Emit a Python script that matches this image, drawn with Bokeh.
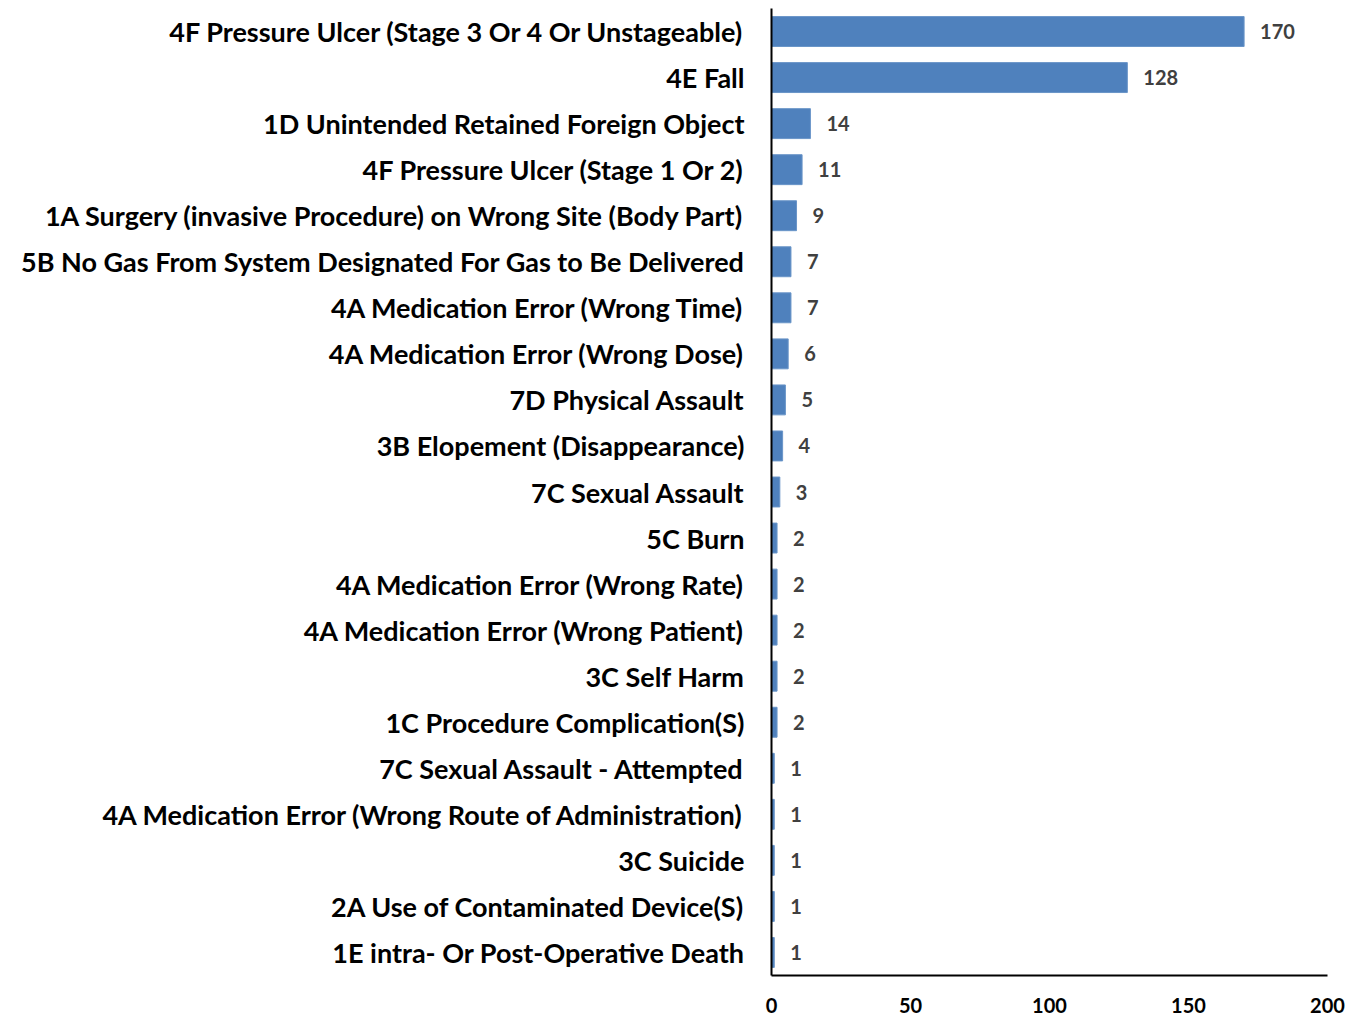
from bokeh.plotting import figure
from bokeh.models import ColumnDataSource, FactorRange, Range1d, FixedTicker, LabelSet
from bokeh.core.properties import value
from bokeh.embed import file_html
from bokeh.resources import INLINE

categories = [
    "4F Pressure Ulcer (Stage 3 Or 4 Or Unstageable)",
    "4E Fall",
    "1D Unintended Retained Foreign Object",
    "4F Pressure Ulcer (Stage 1 Or 2)",
    "1A Surgery (invasive Procedure) on Wrong Site (Body Part)",
    "5B No Gas From System Designated For Gas to Be Delivered",
    "4A Medication Error (Wrong Time)",
    "4A Medication Error (Wrong Dose)",
    "7D Physical Assault",
    "3B Elopement (Disappearance)",
    "7C Sexual Assault",
    "5C Burn",
    "4A Medication Error (Wrong Rate)",
    "4A Medication Error (Wrong Patient)",
    "3C Self Harm",
    "1C Procedure Complication(S)",
    "7C Sexual Assault - Attempted",
    "4A Medication Error (Wrong Route of Administration)",
    "3C Suicide",
    "2A Use of Contaminated Device(S)",
    "1E intra- Or Post-Operative Death",
]
values = [170, 128, 14, 11, 9, 7, 7, 6, 5, 4, 3, 2, 2, 2, 2, 2, 1, 1, 1, 1, 1]
x_ticks = [0, 50, 100, 150, 200]

FONT = "Lato"

src = ColumnDataSource(dict(cat=categories, val=values, lab=[str(v) for v in values]))

p = figure(
    width=1347, height=1015,
    y_range=FactorRange(*list(reversed(categories)), range_padding=0),
    x_range=Range1d(0, 200),
    output_backend="svg", toolbar_location=None,
    min_border_left=771, min_border_right=20, min_border_top=8, min_border_bottom=40,
)
p.hbar(y="cat", right="val", left=0, height=0.65, source=src,
       fill_color="#4F81BD", line_color="#6A95C8", line_width=1)

labels = LabelSet(x="val", y="cat", text="lab", source=src, x_offset=16,
                  text_align="left", text_baseline="middle",
                  text_font=value(FONT), text_font_style="bold", text_font_size="20px",
                  text_color="#404040")
p.add_layout(labels)

p.outline_line_color = None
p.grid.grid_line_color = None
p.background_fill_color = "white"
p.border_fill_color = "white"

xa = p.xaxis[0]
xa.ticker = FixedTicker(ticks=x_ticks)
xa.axis_line_color = "black"
xa.axis_line_width = 2
xa.major_tick_line_color = None
xa.minor_tick_line_color = None
xa.major_label_text_font = FONT
xa.major_label_text_font_style = "bold"
xa.major_label_text_font_size = "20px"
xa.major_label_text_color = "black"
xa.major_label_standoff = 16

ya = p.yaxis[0]
ya.axis_line_color = "black"
ya.axis_line_width = 2
ya.major_tick_line_color = None
ya.minor_tick_line_color = None
ya.major_label_text_font = FONT
ya.major_label_text_font_style = "bold"
ya.major_label_text_font_size = "27px"
ya.major_label_text_color = "black"
ya.major_label_standoff = 21

open("out.html", "w").write(file_html(p, INLINE))
